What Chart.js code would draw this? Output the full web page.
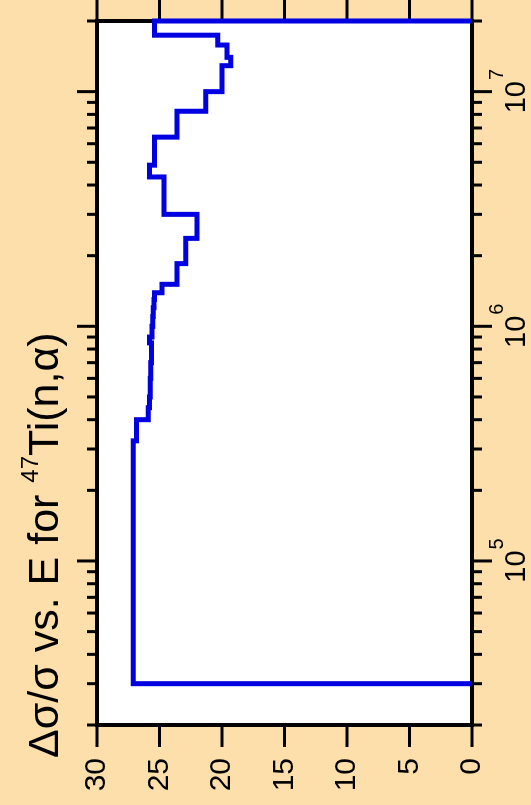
<!DOCTYPE html>
<html>
<head>
<meta charset="utf-8">
<script src="https://cdn.jsdelivr.net/npm/chart.js@4"></script>
<style>
  html, body { margin: 0; padding: 0; background: #fddfab; overflow: hidden; }
  #wrap {
    position: absolute; left: 0; top: 0; width: 805px; height: 531px;
    transform-origin: 0 0; transform: translate(0, 805px) rotate(-90deg);
  }
</style>
</head>
<body>
<div id="wrap"><canvas id="myChart" width="805" height="531"></canvas></div>
<script>
// group edges (eV) and relative uncertainty (%) per group
const energyEdges = [3e4, 3.25e5, 4.0e5, 4.5e5, 5.0e5, 6.0e5, 7.0e5, 8.0e5, 8.5e5, 9.0e5,
  1.0e6, 1.1e6, 1.2e6, 1.3e6, 1.39e6, 1.51e6, 1.85e6, 2.37e6, 3.0e6, 4.33e6, 4.86e6,
  6.4e6, 8.25e6, 1.0e7, 1.29e7, 1.4e7, 1.58e7, 1.74e7, 2.0e7];
const relUnc = [27.1, 26.85, 25.9, 25.8, 25.75, 25.7, 25.65, 25.65, 25.8, 25.6,
  25.55, 25.5, 25.45, 25.4, 24.8, 23.6, 22.9, 22.0, 24.65, 25.8,
  25.4, 23.6, 21.3, 20.0, 19.3, 19.6, 20.35, 25.4];

const energyMajor = [1e5, 1e6, 1e7];
const energyExp = ["5", "6", "7"];
const energyMin = 2e4;
const energyMax = 2e7;

const FONT = '"Liberation Sans", Arial, sans-serif';
const BG = "#fddfab";
const BLUE = "rgb(0,0,225)";

// histogram outline: drop to zero at both ends, both corners of every group
const points = [{ x: energyEdges[0], y: 0 }];
relUnc.forEach((v, i) => {
  points.push({ x: energyEdges[i], y: v });
  points.push({ x: energyEdges[i + 1], y: v });
});
points.push({ x: energyEdges[energyEdges.length - 1], y: 0 });

const frame = {
  id: "frame",
  beforeDraw(chart) {
    const { ctx, chartArea: a } = chart;
    ctx.save();
    ctx.fillStyle = BG;
    ctx.fillRect(0, 0, chart.width, chart.height);
    ctx.fillStyle = "#fff";
    ctx.fillRect(a.left, a.top, a.right - a.left, a.bottom - a.top);
    ctx.restore();
  },
  beforeDatasetsDraw(chart) {
    const { ctx, chartArea: a } = chart;
    const xs = chart.scales.x, ys = chart.scales.y;
    ctx.save();
    ctx.strokeStyle = "#000";
    ctx.lineWidth = 3;
    ctx.beginPath();
    // energy ticks, top and bottom
    for (let e = 4; e <= 7; e++) {
      for (let m = 1; m <= 9; m++) {
        const v = m * Math.pow(10, e);
        if (v < energyMin * 0.999 || v > energyMax * 1.001) continue;
        const px = xs.getPixelForValue(v);
        const len = m === 1 ? 20 : 10;
        ctx.moveTo(px, a.bottom); ctx.lineTo(px, a.bottom + len);
        ctx.moveTo(px, a.top); ctx.lineTo(px, a.top - len);
      }
    }
    // value ticks, left and right
    ys.ticks.forEach(t => {
      const py = ys.getPixelForValue(t.value);
      ctx.moveTo(a.left, py); ctx.lineTo(a.left - 22, py);
      ctx.moveTo(a.right, py); ctx.lineTo(a.right + 21, py);
    });
    ctx.stroke();
    ctx.lineWidth = 4;
    ctx.strokeRect(a.left, a.top, a.right - a.left, a.bottom - a.top);
    ctx.restore();
  },
  afterDraw(chart) {
    const { ctx } = chart;
    const xs = chart.scales.x;
    ctx.save();
    ctx.fillStyle = "#000";
    ctx.textBaseline = "alphabetic";
    ctx.textAlign = "left";
    // energy decade labels 10^n
    energyMajor.forEach((v, i) => {
      const px = xs.getPixelForValue(v);
      ctx.font = "29px " + FONT;
      const w1 = ctx.measureText("10").width;
      ctx.font = "20px " + FONT;
      const w2 = ctx.measureText(energyExp[i]).width;
      const x0 = px - (w1 + w2) / 2;
      ctx.font = "29px " + FONT;
      ctx.fillText("10", x0, 525);
      ctx.font = "20px " + FONT;
      ctx.fillText(energyExp[i], x0 + w1 + 1, 503);
    });
    // title
    let x = 47;
    const y = 58;
    ctx.font = "43px " + FONT;
    const p1 = "\u0394\u03c3/\u03c3 vs. E for ";
    ctx.fillText(p1, x, y);
    x += ctx.measureText(p1).width;
    ctx.font = "24px " + FONT;
    ctx.fillText("47", x, y - 20);
    x += ctx.measureText("47").width;
    ctx.font = "43px " + FONT;
    ctx.fillText("Ti(n,\u03b1)", x, y);
    ctx.restore();
  }
};

new Chart(document.getElementById("myChart"), {
  type: "line",
  data: {
    datasets: [{
      label: "rel. uncertainty",
      data: points,
      borderColor: BLUE,
      borderWidth: 5,
      borderJoinStyle: "miter",
      pointRadius: 0,
      fill: false,
      clip: false
    }]
  },
  options: {
    responsive: false,
    animation: false,
    layout: { padding: { top: 97, right: 21, left: 0, bottom: 0 } },
    plugins: { legend: { display: false }, title: { display: false }, tooltip: { enabled: false } },
    scales: {
      x: {
        type: "logarithmic",
        min: energyMin,
        max: energyMax,
        grid: { display: false, drawTicks: false },
        border: { display: false },
        ticks: { display: false },
        afterFit: s => { s.height = 59; }
      },
      y: {
        min: 0,
        max: 30,
        grid: { display: false, drawTicks: false },
        border: { display: false },
        ticks: { stepSize: 5, color: "#000", padding: 33, font: { size: 30, family: FONT } },
        afterFit: s => { s.width = 80; }
      }
    }
  },
  plugins: [frame]
});
</script>
</body>
</html>
